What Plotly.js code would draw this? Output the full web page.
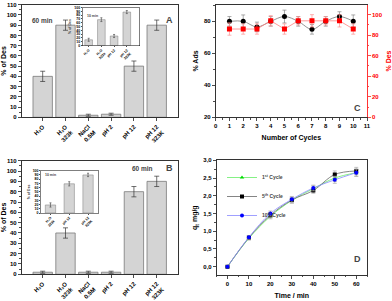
<!DOCTYPE html>
<html><head><meta charset="utf-8">
<script src="https://cdn.plot.ly/plotly-3.0.1.min.js"></script>
<style>html,body{margin:0;padding:0;background:#fff}#chart{width:392px;height:301px}</style>
</head><body><div id="chart"></div>
<script>
// Panel A / B main categories
const catMain = ['H₂O', 'H₂O<br>323k', 'NaCl<br>0.5M', 'pH 2', 'pH 12', 'pH 12<br>323K'];
const desA = [40, 90, 2, 3, 50, 90];
const errA = [5, 5, 1, 1, 5, 5];
const desB = [2, 40, 2, 2, 80, 90];
const errB = [1, 5, 1, 1, 5, 5];
// Insets (10 min)
const catInsetA = ['H₂O', 'H₂O<br>323k', 'pH 12', 'pH 12<br>323K'];
const desInsetA = [15, 68, 25, 88];
const errInsetA = [4, 5, 4, 4];
const catInsetB = ['H₂O<br>323k', 'pH 12', 'pH 12<br>323K'];
const desInsetB = [19, 69, 90];
const errInsetB = [5, 5, 4];
// Panel C
const cycles = [1, 2, 3, 4, 5, 6, 7, 8, 9, 10];
const ads = [80, 80, 76.5, 80, 83, 80, 75, 80, 83, 80];
const adsErr = [3, 4, 3, 3, 4, 3, 3, 3, 3, 4];
const desC = [86, 86, 86, 94, 86, 94, 94, 94, 94, 86];
const desCErr = [6, 5, 5, 5, 5, 4, 6, 4, 6, 5];
// Panel D
const time = [0, 10, 20, 30, 40, 50, 60];
const q1 = [0, 0.80, 1.42, 1.87, 2.20, 2.50, 2.65];
const q5 = [0, 0.82, 1.45, 1.88, 2.15, 2.60, 2.70];
const q10 = [0, 0.83, 1.50, 1.90, 2.22, 2.45, 2.65];
const qErr = [0.03, 0.05, 0.07, 0.08, 0.08, 0.1, 0.1];

const F = 'Liberation Sans, Arial, sans-serif';
const barStyle = {color: '#d4d4d4', line: {color: '#7a7a7a', width: 0.8}};
const eb = (arr, w, col) => ({type: 'data', array: arr, visible: true, color: col || '#333', thickness: 0.7, width: w});

const traces = [
  {type: 'bar', x: catMain, y: desA, xaxis: 'x', yaxis: 'y', width: 0.85, marker: barStyle, error_y: eb(errA, 2.5)},
  {type: 'bar', x: catInsetA, y: desInsetA, xaxis: 'x2', yaxis: 'y2', width: 0.6, marker: {color: '#d4d4d4', line: {color: '#7a7a7a', width: 0.5}}, error_y: eb(errInsetA, 1, '#555')},
  {type: 'bar', x: catMain, y: desB, xaxis: 'x3', yaxis: 'y3', width: 0.85, marker: barStyle, error_y: eb(errB, 2.5)},
  {type: 'bar', x: catInsetB, y: desInsetB, xaxis: 'x4', yaxis: 'y4', width: 0.55, marker: {color: '#d4d4d4', line: {color: '#7a7a7a', width: 0.5}}, error_y: eb(errInsetB, 1, '#555')},
  {type: 'scatter', mode: 'lines+markers', x: cycles, y: ads, xaxis: 'x5', yaxis: 'y5',
   line: {color: '#777', width: 0.8, shape: 'spline'}, marker: {color: '#000', size: 5, symbol: 'circle'}, error_y: eb(adsErr, 2, '#888')},
  {type: 'scatter', mode: 'lines+markers', x: cycles, y: desC, xaxis: 'x5', yaxis: 'y6',
   line: {color: '#ff8080', width: 0.8}, marker: {color: '#ff0000', size: 5, symbol: 'square'}, error_y: eb(desCErr, 2, '#ff9090')},
  {type: 'scatter', mode: 'lines+markers', name: '1<sup>st</sup> Cycle', x: time, y: q1, xaxis: 'x6', yaxis: 'y7',
   line: {color: '#66ee66', width: 0.8, shape: 'spline'}, marker: {color: '#00dd00', size: 4, symbol: 'triangle-up'}, error_y: eb(qErr, 2, '#aaa')},
  {type: 'scatter', mode: 'lines+markers', name: '5<sup>th</sup> Cycle', x: time, y: q5, xaxis: 'x6', yaxis: 'y7',
   line: {color: '#666', width: 0.8, shape: 'spline'}, marker: {color: '#000', size: 4, symbol: 'square'}, error_y: eb(qErr, 2, '#aaa')},
  {type: 'scatter', mode: 'lines+markers', name: '10<sup>th</sup> Cycle', x: time, y: q10, xaxis: 'x6', yaxis: 'y7',
   line: {color: '#8888ff', width: 0.8, shape: 'spline'}, marker: {color: '#0000ff', size: 4, symbol: 'circle'}, error_y: eb(qErr, 2, '#aaa')}
];
traces.forEach((t, i) => { if (i < 6) t.showlegend = false; });

const tf = {family: F, size: 6, color: '#000', weight: 'bold'};
const titf = {family: F, size: 7, color: '#000', weight: 'bold'};
const tinyf = {family: F, size: 3.5, color: '#000', weight: 'bold'};
const px = (a, b) => [a / 392, b / 392];
const py = (top, bot) => [1 - bot / 301, 1 - top / 301];
const base = {showline: true, linecolor: '#000', linewidth: 0.8, mirror: true, ticks: 'outside', ticklen: 3, tickwidth: 0.7, tickcolor: '#000', showgrid: false, zeroline: false, tickfont: tf};

const layout = {
  width: 392, height: 301, margin: {l: 0, r: 0, t: 0, b: 0}, paper_bgcolor: '#fff', plot_bgcolor: '#fff',
  separators: ', ', font: {family: F, size: 6, weight: 'bold'}, bargap: 0,
  xaxis: Object.assign({}, base, {domain: px(21.7, 177.7), anchor: 'y', range: [-0.92, 5.92], tickangle: -45}),
  yaxis: Object.assign({}, base, {domain: py(4.7, 117.3), anchor: 'x', range: [0, 110], dtick: 10, minor: {ticks: 'outside', ticklen: 1.5, dtick: 5, tickcolor: '#000'}, title: {text: '% of Des', font: titf, standoff: 4}}),
  xaxis2: Object.assign({}, base, {domain: px(82.3, 139), anchor: 'y2', range: [-0.5, 3.96], tickangle: -45, tickfont: tinyf, ticklen: 1, linewidth: 0.5}),
  yaxis2: Object.assign({}, base, {domain: py(7.5, 45.5), anchor: 'x2', range: [0, 100], dtick: 10, tickfont: tinyf, ticklen: 1, linewidth: 0.5, title: {text: '% of Des', font: {family: F, size: 3.5, weight: 'bold'}, standoff: 2}}),
  xaxis3: Object.assign({}, base, {domain: px(21.7, 177.7), anchor: 'y3', range: [-0.92, 5.92], tickangle: -45}),
  yaxis3: Object.assign({}, base, {domain: py(160.7, 274.3), anchor: 'x3', range: [0, 110], dtick: 10, minor: {ticks: 'outside', ticklen: 1.5, dtick: 5, tickcolor: '#000'}, title: {text: '% of Des', font: titf, standoff: 4}}),
  xaxis4: Object.assign({}, base, {domain: px(40.7, 98), anchor: 'y4', range: [-0.52, 2.53], tickangle: -45, tickfont: tinyf, ticklen: 1, linewidth: 0.5}),
  yaxis4: Object.assign({}, base, {domain: py(170.7, 213), anchor: 'x4', range: [0, 100], dtick: 10, tickfont: tinyf, ticklen: 1, linewidth: 0.5, title: {text: '% of Des', font: {family: F, size: 3.5, weight: 'bold'}, standoff: 2}}),
  xaxis5: Object.assign({}, base, {domain: px(215.7, 367), anchor: 'y5', range: [0, 11], dtick: 1, minor: {ticks: 'outside', ticklen: 1.5, dtick: 0.5, tickcolor: '#000'}, title: {text: 'Number of Cycles', font: titf, standoff: 6}}),
  yaxis5: Object.assign({}, base, {domain: py(4.7, 117.3), anchor: 'x5', range: [20, 90.4], dtick: 20, mirror: false, minor: {ticks: 'outside', ticklen: 1.5, dtick: 10, tickcolor: '#000'}, title: {text: '% Ads', font: titf, standoff: 4}}),
  yaxis6: Object.assign({}, base, {overlaying: 'y5', side: 'right', anchor: 'x5', range: [0, 109.7], dtick: 20, linecolor: '#ff0000', tickcolor: '#ff0000', tickfont: Object.assign({}, tf, {color: '#ff0000'}), mirror: false, minor: {ticks: 'outside', ticklen: 1.5, dtick: 10, tickcolor: '#ff0000'}, title: {text: '% Des', font: Object.assign({}, titf, {color: '#ff0000'}), standoff: 4}}),
  xaxis6: Object.assign({}, base, {domain: px(216.7, 367), anchor: 'y7', range: [-5, 65], dtick: 10, minor: {ticks: 'outside', ticklen: 1.5, dtick: 5, tickcolor: '#000'}, title: {text: 'Time / min', font: titf, standoff: 6}}),
  yaxis7: Object.assign({}, base, {domain: py(160.3, 275), anchor: 'x6', range: [-0.234, 3.0], dtick: 0.5, tickformat: '.1f', minor: {ticks: 'outside', ticklen: 1.5, dtick: 0.25, tickcolor: '#000'}, title: {text: 'q<sub>t</sub> mg/g', font: titf, standoff: 4}}),
  showlegend: true,
  legend: {x: 222 / 392, y: 1 - 163 / 301, xanchor: 'left', yanchor: 'top', bgcolor: 'rgba(0,0,0,0)', font: {family: F, size: 5, weight: 'bold'}, itemwidth: 30, tracegroupgap: 0},
  annotations: [
    {text: '60 min', x: 30 / 392, y: 1 - 15 / 301, xref: 'paper', yref: 'paper', xanchor: 'left', showarrow: false, font: {family: F, size: 6.5, weight: 'bold'}},
    {text: 'A', x: 175 / 392, y: 1 - 13 / 301, xref: 'paper', yref: 'paper', xanchor: 'right', showarrow: false, font: {family: F, size: 9, weight: 'bold'}},
    {text: '10 min', x: 85 / 392, y: 1 - 12 / 301, xref: 'paper', yref: 'paper', xanchor: 'left', showarrow: false, font: {family: F, size: 3.5, weight: 'bold'}},
    {text: '60 min', x: 130 / 392, y: 1 - 168 / 301, xref: 'paper', yref: 'paper', xanchor: 'left', showarrow: false, font: {family: F, size: 6.5, weight: 'bold'}},
    {text: 'B', x: 175 / 392, y: 1 - 168 / 301, xref: 'paper', yref: 'paper', xanchor: 'right', showarrow: false, font: {family: F, size: 9, weight: 'bold'}},
    {text: '10 min', x: 43 / 392, y: 1 - 175 / 301, xref: 'paper', yref: 'paper', xanchor: 'left', showarrow: false, font: {family: F, size: 3.5, weight: 'bold'}},
    {text: 'C', x: 363 / 392, y: 1 - 108 / 301, xref: 'paper', yref: 'paper', xanchor: 'right', showarrow: false, font: {family: F, size: 9, weight: 'bold'}},
    {text: 'D', x: 363 / 392, y: 1 - 266 / 301, xref: 'paper', yref: 'paper', xanchor: 'right', showarrow: false, font: {family: F, size: 9, weight: 'bold'}}
  ]
};
Plotly.newPlot('chart', traces, layout, {displayModeBar: false, staticPlot: true});
</script></body></html>
